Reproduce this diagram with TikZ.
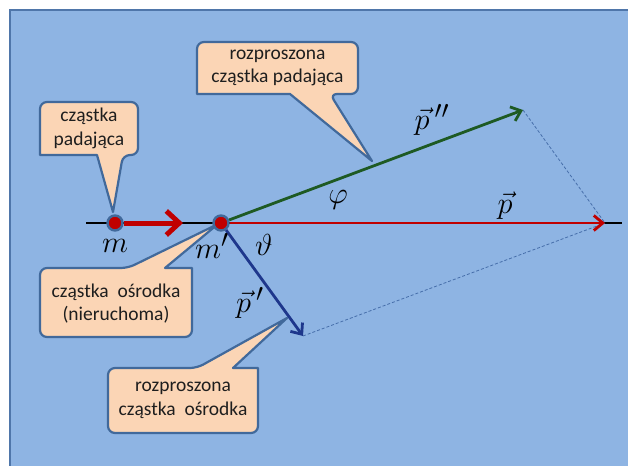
\documentclass[tikz,border=0pt]{standalone}
\usepackage{graphicx}
\usepackage{fontspec}
\setsansfont{Carlito}
\usetikzlibrary{arrows.meta,calc}
\definecolor{bg}{RGB}{142,180,227}
\definecolor{framec}{RGB}{79,118,170}
\definecolor{peach}{RGB}{251,213,181}
\definecolor{cedge}{RGB}{65,105,155}
\definecolor{myred}{RGB}{192,0,0}
\definecolor{mygreen}{RGB}{30,90,35}
\definecolor{myblue}{RGB}{30,55,140}
\definecolor{dashc}{RGB}{70,110,170}
\definecolor{txt}{RGB}{30,30,30}
\newcommand{\biglab}[1]{\scalebox{1.22}{\fontsize{24.88}{28}\selectfont$#1$}}
\begin{document}
\begin{tikzpicture}[x=1pt,y=-1pt,
  cbox/.style={draw=cedge, fill=peach, line width=2.2pt, line join=round},
  cframe/.style={inner sep=0pt, outer sep=0pt},
  ctext/.style={align=center, text=txt, font=\sffamily\fontsize{19.5}{23.5}\selectfont, inner sep=0pt},
  dot/.style={circle, fill=myred, draw=cedge, line width=2.4pt, minimum size=15pt, inner sep=0pt},
  arr/.style={-{Straight Barb[length=9pt,width=15pt]}},
  vec/.style={line width=2.8pt, arr},
  lab/.style={inner sep=0pt}]
\fill[white] (0,0) rectangle (628,465);
\clip (0,0) rectangle (628,465);
\draw[draw=framec, fill=bg, line width=2pt] (9.5,10.5) rectangle (660,500);

% callout 1
\node[cframe, minimum width=161pt, minimum height=52pt] (c1) at (277.5,68) {};
\coordinate (c1a) at (290,94); \coordinate (c1b) at (330,94); \coordinate (c1tip) at (372,161);
\draw[cbox] (c1.north) [rounded corners=7pt]-- (c1.north east) -- (c1.south east) -- (c1b) [sharp corners]-- (c1tip) -- (c1a) -- (c1.south west) [rounded corners=7pt]-- (c1.north west) -- cycle;
\node[ctext] (t1) at (c1) {rozproszona\\cząstka padająca};

% callout 2
\node[cframe, minimum width=98pt, minimum height=53pt] (c2) at (89,128.5) {};
\coordinate (c2a) at (97,155); \coordinate (c2b) at (123,155); \coordinate (c2tip) at (113,212);
\draw[cbox] (c2.north) [rounded corners=7pt]-- (c2.north east) -- (c2.south east) -- (c2b) [sharp corners]-- (c2tip) -- (c2a) -- (c2.south west) [rounded corners=7pt]-- (c2.north west) -- cycle;
\node[ctext] (t2) at (c2) {cząstka\\padająca};

% callout 3
\node[cframe, minimum width=152pt, minimum height=69pt] (c3) at (116,302.5) {};
\coordinate (c3a) at (128,268); \coordinate (c3b) at (165,268); \coordinate (c3tip) at (218,224);
\draw[cbox] (c3.south) [rounded corners=7pt]-- (c3.south west) -- (c3.north west) -- (c3a) [sharp corners]-- (c3tip) -- (c3b) -- (c3.north east) [rounded corners=7pt]-- (c3.south east) -- cycle;
\node[ctext] (t3) at ($(c3)+(0,1)$) {cząstka\ \ ośrodka\\(nieruchoma)};

% callout 4
\node[cframe, minimum width=150pt, minimum height=65pt] (c4) at (183,400.5) {};
\coordinate (c4a) at (197,368); \coordinate (c4b) at (233,368); \coordinate (c4tip) at (287,318);
\draw[cbox] (c4.south) [rounded corners=7pt]-- (c4.south west) -- (c4.north west) -- (c4a) [sharp corners]-- (c4tip) -- (c4b) -- (c4.north east) [rounded corners=7pt]-- (c4.south east) -- cycle;
\node[ctext] (t4) at (c4) {rozproszona\\cząstka\ \ ośrodka};

% axis
\coordinate (axL) at (86,223); \coordinate (axR) at (622,223);
\draw[black, line width=1.3pt] (axL) -- (axR);

% particles
\node[dot] (m) at (115,223) {};
\node[dot] (mp) at (221,223) {};

% vectors
\coordinate (inc) at (183,223);
\coordinate (P) at (605,223);
\coordinate (P2) at (523,110);
\coordinate (P1) at (303,336);
\draw[myred, line width=5pt, -{Straight Barb[length=13pt,width=24pt]}] (m) -- (inc);
\draw[dashc, dashed, line width=0.8pt, dash pattern=on 3pt off 2pt] (P2) -- (P);
\draw[dashc, dashed, line width=0.8pt, dash pattern=on 3pt off 2pt] (P1) -- (P);
\draw[myred, vec] (mp) -- (P);
\draw[mygreen, vec] (mp) -- (P2);
\draw[myblue, vec] (mp) -- (P1);

% labels
\node[lab] (lm) at (115,246) {\biglab{m}};
\node[lab] (lmp) at (212,246) {\biglab{m'}};
\node[lab] (lth) at (264,245) {\biglab{\vartheta}};
\node[lab] (lp1) at (250,303) {\biglab{\vec{p}\,'}};
\node[lab] (lphi) at (338,200) {\biglab{\varphi}};
\node[lab] (lp) at (505,206) {\biglab{\vec{p}}};
\node[lab] (lp2) at (432,120) {\biglab{\vec{p}\,''}};
\end{tikzpicture}
\end{document}
